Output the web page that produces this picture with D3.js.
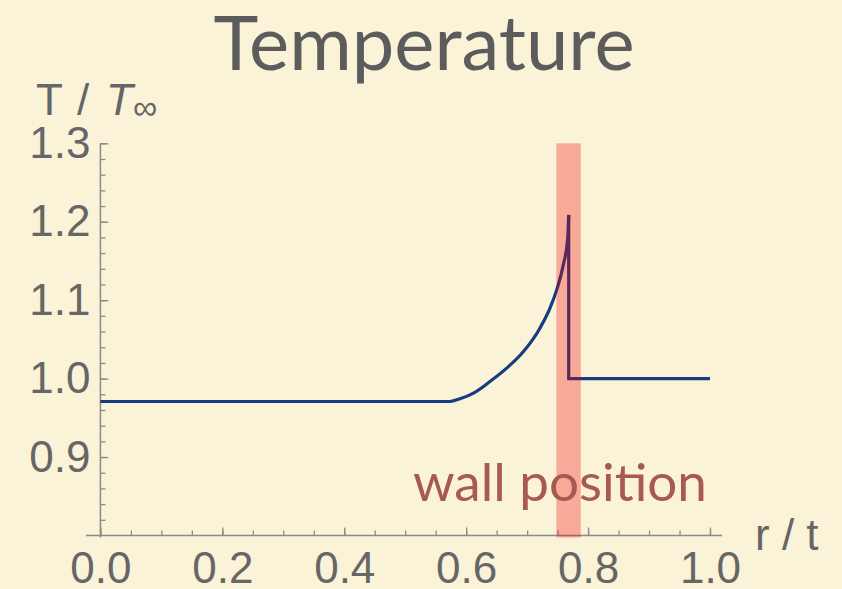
<!DOCTYPE html>
<html>
<head>
<meta charset="utf-8">
<script src="https://cdn.jsdelivr.net/npm/d3@7"></script>
<style>
  body { margin: 0; background: #faf3d8; }
  svg { display: block; }
  .tick text { font-family: "Liberation Sans", Arial, sans-serif; fill: #666; }
</style>
</head>
<body>
<svg id="chart" width="842" height="589"></svg>
<script>
// temperature profile
// inside part (flat core + rise up to the wall)
var rInner = [0, 0.5735, 0.590, 0.612, 0.639, 0.6665, 0.694, 0.721, 0.7375, 0.7485, 0.7594, 0.7666, 0.7682];
var tInner = [0.9708, 0.9708, 0.9743, 0.9815, 0.9963, 1.0134, 1.0345, 1.0643, 1.0898, 1.1131, 1.1450, 1.1790, 1.2087];
// drop at the wall, then ambient
var rOuter = [0.7682, 0.7682, 1.0];
var tOuter = [1.2087, 1.000, 1.000];

// wall band
var wallRange = [0.748, 0.788];

var xMajor = [0.0, 0.2, 0.4, 0.6, 0.8, 1.0];
var yMajor = [0.9, 1.0, 1.1, 1.2, 1.3];

var svg = d3.select("#chart");

var x = d3.scaleLinear().domain([0, 1]).range([100.4, 710]);
var y = d3.scaleLinear().domain([0.8, 1.3]).range([535.5, 143.3]);

var axisColor = "#8a8a8a";

// minor ticks
var xMinor = d3.range(0, 1.0001, 0.05);
var yMinor = d3.range(0.82, 1.3001, 0.02);

svg.append("g")
  .attr("transform", `translate(0, ${y(0.8)})`)
  .call(d3.axisBottom(x).tickValues(xMinor).tickSize(-5).tickFormat(""));

svg.append("g")
  .attr("transform", `translate(${x(0)}, 0)`)
  .call(d3.axisLeft(y).tickValues(yMinor).tickSize(-5).tickFormat(""));

// major ticks with labels
var xAxis = svg.append("g")
  .attr("transform", `translate(0, ${y(0.8)})`)
  .call(d3.axisBottom(x).tickValues(xMajor).tickSize(-8).tickFormat(d3.format(".1f")));

var yAxis = svg.append("g")
  .attr("transform", `translate(${x(0)}, 0)`)
  .call(d3.axisLeft(y).tickValues(yMajor).tickSize(-8).tickPadding(10).tickFormat(d3.format(".1f")));

svg.selectAll(".domain").remove();
svg.selectAll(".tick line").attr("stroke", axisColor).attr("stroke-width", 1.3);
svg.selectAll(".tick text").style("font-size", "44px").attr("fill", "#666");
xAxis.selectAll(".tick text").attr("dy", "0.71em").attr("y", 16);

// axis lines
svg.append("line")
  .attr("x1", 86).attr("x2", 722)
  .attr("y1", y(0.8)).attr("y2", y(0.8))
  .attr("stroke", axisColor).attr("stroke-width", 1.5);
svg.append("line")
  .attr("x1", x(0)).attr("x2", x(0))
  .attr("y1", y(1.3)).attr("y2", y(0.8) + 2)
  .attr("stroke", axisColor).attr("stroke-width", 1.5);

// temperature curve
var lineInner = d3.line()
  .x(d => x(d[0]))
  .y(d => y(d[1]))
  .curve(d3.curveMonotoneX);
var lineOuter = d3.line()
  .x(d => x(d[0]))
  .y(d => y(d[1]));

svg.append("path")
  .datum(d3.zip(rInner, tInner))
  .attr("d", lineInner)
  .attr("fill", "none")
  .attr("stroke", "#163c82")
  .attr("stroke-width", 3.2);

svg.append("path")
  .datum(d3.zip(rOuter, tOuter))
  .attr("d", lineOuter)
  .attr("fill", "none")
  .attr("stroke", "#163c82")
  .attr("stroke-width", 3.2)
  .attr("stroke-linejoin", "miter");

// wall band drawn over the curve
svg.append("rect")
  .attr("x", x(wallRange[0]))
  .attr("width", x(wallRange[1]) - x(wallRange[0]))
  .attr("y", y(1.3))
  .attr("height", y(0.8) - y(1.3) + 2)
  .attr("fill", "#fa0000")
  .attr("opacity", 0.3);

svg.append("text")
  .attr("x", 413)
  .attr("y", 501)
  .attr("font-family", "Lato, sans-serif")
  .attr("font-size", 53)
  .attr("fill", "#a85a50")
  .text("wall position");

// title
svg.append("text")
  .attr("x", 424)
  .attr("y", 70)
  .attr("text-anchor", "middle")
  .attr("font-family", "Lato, sans-serif")
  .attr("font-size", 76)
  .attr("fill", "#5c5c5c")
  .text("Temperature");

// axis labels
var yLab = svg.append("text")
  .attr("y", 115)
  .attr("font-family", "'Liberation Sans', Arial, sans-serif")
  .attr("font-size", 44)
  .attr("fill", "#666");
yLab.append("tspan").attr("x", 36).text("T");
yLab.append("tspan").attr("x", 77).text("/");
yLab.append("tspan").attr("x", 106).attr("font-style", "italic").text("T");
yLab.append("tspan").attr("x", 133).attr("font-size", 34).attr("dy", 4).text("\u221E");

svg.append("text")
  .attr("x", 755)
  .attr("y", 550)
  .attr("font-family", "'Liberation Sans', Arial, sans-serif")
  .attr("font-size", 44)
  .attr("fill", "#666")
  .text("r / t");
</script>
</body>
</html>
